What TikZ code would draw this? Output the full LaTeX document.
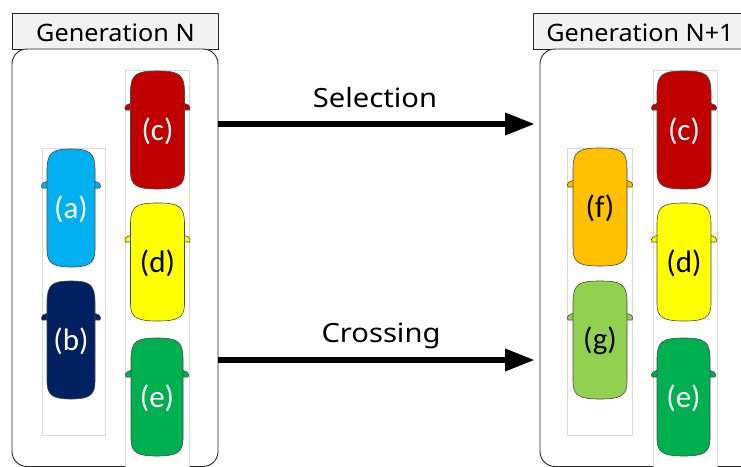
\documentclass[tikz,border=0pt]{standalone}
\usepackage{fontspec}
\setmainfont{Noto Sans}
\newfontfamily\headfont[FakeStretch=1.05]{Noto Sans}
\newfontfamily\stepfont[FakeStretch=1.1]{Noto Sans}
\newfontfamily\labelfont{Carlito}
\usetikzlibrary{arrows.meta}

\definecolor{carA}{HTML}{00B0F0}
\definecolor{carB}{HTML}{002060}
\definecolor{carC}{HTML}{C00000}
\definecolor{carD}{HTML}{FFFF00}
\definecolor{carE}{HTML}{00B050}
\definecolor{carF}{HTML}{FFC000}
\definecolor{carG}{HTML}{92D050}
\definecolor{headfill}{HTML}{F2F2F2}
\definecolor{colline}{HTML}{D9D9D9}
\definecolor{carline}{HTML}{4A4A4A}

\tikzset{
  frame/.style={draw=black!85, line width=0.9pt, rounded corners=15pt, fill=white},
  header/.style={draw=black!85, line width=0.9pt, fill=headfill},
  column/.style={draw=colline, line width=0.7pt, fill=white},
  headtext/.style={font=\headfont\fontsize{24}{28}\selectfont, anchor=base},
  steptext/.style={font=\stepfont\fontsize{26.5}{30}\selectfont, anchor=base},
  carlabel/.style={font=\labelfont\fontsize{31}{34}\selectfont, inner sep=0pt},
  carbody/.style={draw=carline, line width=0.6pt},
  bigarrow/.style={line width=6.6pt, -{Triangle[length=30pt,width=21pt]}, shorten >=5pt}
}

% a car seen from above: name, centre x, centre y, half width, colour, text colour, label
\newcommand\drawcar[7]{%
  \begin{scope}[shift={(#2,#3)}]
    % side mirrors
    \path[carbody, fill=#5] (-#4+1,-27) -- (-#4-4,-25) .. controls (-#4-6,-24) and (-#4-6,-21) .. (-#4-5,-20) -- (-#4+1,-20) -- cycle;
    \path[carbody, fill=#5] (#4-1,-27) -- (#4+4,-25) .. controls (#4+6,-24) and (#4+6,-21) .. (#4+5,-20) -- (#4-1,-20) -- cycle;
    % body
    \path[carbody, fill=#5]
      (-#4,-38) .. controls (-#4,-56) and (-#4+6,-59) .. (0,-59)
      .. controls (#4-6,-59) and (#4,-56) .. (#4,-38)
      -- (#4,42) .. controls (#4,56) and (#4-7,59) .. (0,59)
      .. controls (-#4+7,59) and (-#4,56) .. (-#4,42) -- cycle;
    \node[carlabel, text=#6] (#1) at (0,1) {#7};
  \end{scope}}

\begin{document}
\begin{tikzpicture}[x=1pt,y=-1pt]
  \useasboundingbox (0,0) rectangle (741,466);

  % generation N
  \node[header, minimum width=206pt, minimum height=36pt, inner sep=0pt, anchor=north west] (hdrN) at (12,13) {};
  \node[headtext] (ttlN) at (115.5,41.7) {Generation N};
  \draw[frame] (12,49) rectangle (218,466.5);
  \coordinate (frameN) at (218,49);
  \node[column, minimum width=63pt, minimum height=287pt, inner sep=0pt, anchor=north west] (colAB) at (41.5,147.5) {};
  \node[column, minimum width=64pt, minimum height=400pt, inner sep=0pt, anchor=north west] (colCDE) at (125,69.5) {};

  \drawcar{a}{71}{208}{24}{carA}{white}{(a)}
  \drawcar{b}{71}{340}{24}{carB}{white}{(b)}
  \drawcar{c}{157.5}{130}{27}{carC}{white}{(c)}
  \drawcar{d}{157.5}{262}{27}{carD}{black}{(d)}
  \drawcar{e}{157}{397}{26}{carE}{white}{(e)}

  % generation N+1
  \node[header, minimum width=214pt, minimum height=36pt, inner sep=0pt, anchor=north west] (hdrN1) at (533,13) {};
  \node[headtext] (ttlN1) at (640,41.7) {Generation N+1};
  \draw[frame] (540,49) rectangle (760,466.5);
  \coordinate (frameN1) at (540,49);
  \node[column, minimum width=65pt, minimum height=287pt, inner sep=0pt, anchor=north west] (colFG) at (567,147.5) {};
  \node[column, minimum width=64pt, minimum height=400pt, inner sep=0pt, anchor=north west] (colCDE1) at (652.5,69.5) {};

  \drawcar{f}{600}{207}{27}{carF}{black}{(f)}
  \drawcar{g}{600}{340}{27}{carG}{black}{(g)}
  \drawcar{c1}{684}{130}{27}{carC}{white}{(c)}
  \drawcar{d1}{684}{262}{27}{carD}{black}{(d)}
  \drawcar{e1}{683.5}{397}{26.5}{carE}{white}{(e)}

  % steps between the generations
  \coordinate (sel) at (0,124);
  \coordinate (cross) at (0,360);
  \draw[bigarrow] (frameN |- sel) -- (frameN1 |- sel);
  \draw[bigarrow] (frameN |- cross) -- (frameN1 |- cross);
  \node[steptext] (lsel) at (375,107) {Selection};
  \node[steptext] (lcross) at (381,342) {Crossing};
\end{tikzpicture}
\end{document}
